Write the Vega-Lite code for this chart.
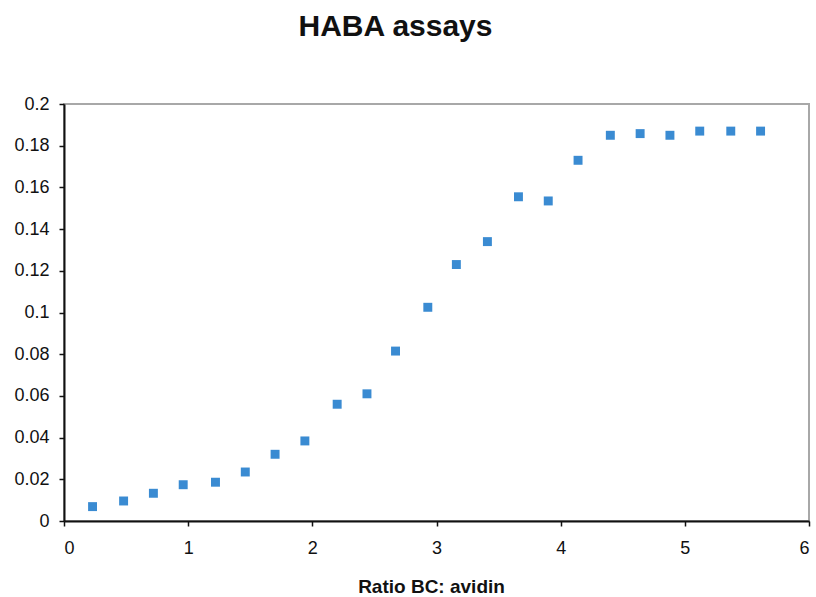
{
  "$schema": "https://vega.github.io/schema/vega-lite/v6.json",
  "autosize": "none",
  "width": 745,
  "height": 417,
  "padding": {"left": 64, "top": 104, "right": 7, "bottom": 76},
  "background": "white",
  "title": {
    "text": "HABA assays",
    "font": "Liberation Sans",
    "fontSize": 30,
    "fontWeight": "bold",
    "color": "#111",
    "anchor": "middle",
    "dx": -41,
    "baseline": "alphabetic",
    "offset": 29
  },
  "config": {
    "view": {"stroke": "#a8a8a8", "strokeWidth": 2},
    "axis": {
      "labelFont": "Liberation Sans",
      "labelFontSize": 18,
      "labelColor": "#111",
      "domainColor": "#111",
      "domainWidth": 2,
      "tickColor": "#111",
      "tickWidth": 1.5,
      "tickSize": 5,
      "grid": false,
      "titleFont": "Liberation Sans",
      "titleColor": "#111"
    }
  },
  "data": {
    "values": [
      {"ratio": 0.23, "absorbance": 0.0069},
      {"ratio": 0.48, "absorbance": 0.0096},
      {"ratio": 0.72, "absorbance": 0.0133},
      {"ratio": 0.96, "absorbance": 0.0174},
      {"ratio": 1.22, "absorbance": 0.0186},
      {"ratio": 1.46, "absorbance": 0.0235},
      {"ratio": 1.70, "absorbance": 0.032},
      {"ratio": 1.94, "absorbance": 0.0384},
      {"ratio": 2.20, "absorbance": 0.056},
      {"ratio": 2.44, "absorbance": 0.061},
      {"ratio": 2.67, "absorbance": 0.0815},
      {"ratio": 2.93, "absorbance": 0.1025},
      {"ratio": 3.16, "absorbance": 0.123},
      {"ratio": 3.41, "absorbance": 0.134},
      {"ratio": 3.66, "absorbance": 0.1555},
      {"ratio": 3.90, "absorbance": 0.1535},
      {"ratio": 4.14, "absorbance": 0.173},
      {"ratio": 4.40, "absorbance": 0.185},
      {"ratio": 4.64, "absorbance": 0.1858},
      {"ratio": 4.88, "absorbance": 0.185},
      {"ratio": 5.12, "absorbance": 0.187},
      {"ratio": 5.37, "absorbance": 0.187},
      {"ratio": 5.61, "absorbance": 0.187}
    ]
  },
  "mark": {"type": "square", "filled": true, "size": 80, "color": "#3a8bd2", "opacity": 1},
  "encoding": {
    "x": {
      "field": "ratio",
      "type": "quantitative",
      "scale": {"domain": [0, 6], "nice": false, "zero": true},
      "axis": {
        "values": [0, 1, 2, 3, 4, 5, 6],
        "format": "d",
        "labelPadding": 13,
        "title": "Ratio BC: avidin",
        "titleFontSize": 19,
        "titleFontWeight": "bold",
        "titlePadding": 20,
        "titleX": 367
      }
    },
    "y": {
      "field": "absorbance",
      "type": "quantitative",
      "scale": {"domain": [0, 0.2], "nice": false},
      "axis": {
        "values": [0, 0.02, 0.04, 0.06, 0.08, 0.1, 0.12, 0.14, 0.16, 0.18, 0.2],
        "format": ".2~f",
        "labelPadding": 10,
        "title": null
      }
    }
  }
}
